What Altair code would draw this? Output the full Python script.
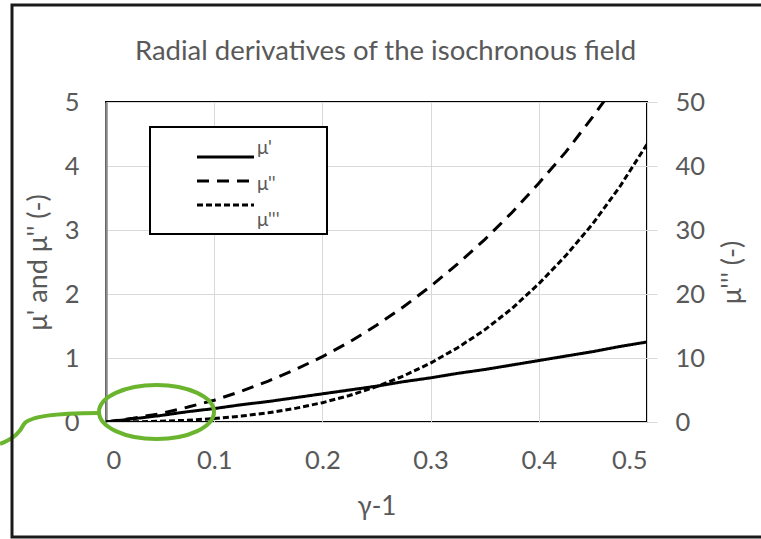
import altair as alt
import pandas as pd

# ---- data ----
gamma_minus_1 = [0, 0.025, 0.05, 0.075, 0.1, 0.125, 0.15, 0.175, 0.2, 0.225, 0.25,
                 0.275, 0.3, 0.325, 0.35, 0.375, 0.4, 0.425, 0.45, 0.475, 0.5]
mu1 = [0, 0.05, 0.10, 0.16, 0.21, 0.27, 0.32, 0.38, 0.44, 0.50, 0.56,
       0.63, 0.69, 0.76, 0.82, 0.89, 0.96, 1.03, 1.10, 1.18, 1.25]
mu2 = [0, 0.06, 0.13, 0.23, 0.34, 0.48, 0.64, 0.82, 1.02, 1.25, 1.51,
       1.80, 2.12, 2.47, 2.85, 3.27, 3.73, 4.22, 4.77, 5.36, 5.96]
mu3 = [0, 0.03, 0.11, 0.27, 0.54, 0.92, 1.44, 2.13, 3.02, 4.14, 5.52,
       7.20, 9.21, 11.6, 14.4, 17.7, 21.6, 26.0, 31.0, 36.8, 43.4]
series_names = ["μ'", "μ''", "μ'''"]
dash_styles = [[1, 0], [12, 8], [6, 3]]
x_ticks = [0, 0.1, 0.2, 0.3, 0.4, 0.5]
left_ticks = [0, 1, 2, 3, 4, 5]
right_ticks = [0, 10, 20, 30, 40, 50]
chart_title = ["Radial derivatives of the isochronous field"]

FONT = "Lato"
GRAY = "#595959"
GREEN = "#6ab42e"

n = len(gamma_minus_1)
left_df = pd.DataFrame({
    "x": gamma_minus_1 * 2,
    "value": mu1 + mu2,
    "series": [series_names[0]] * n + [series_names[1]] * n,
})
right_df = pd.DataFrame({"x": gamma_minus_1, "value": mu3, "series": [series_names[2]] * n})
legend_df = pd.DataFrame({"series": series_names})
title_df = pd.DataFrame({"t": chart_title})
dummy = pd.DataFrame({"a": [0]})

dash_scale = alt.Scale(domain=series_names, range=dash_styles)

x_enc = alt.X(
    "x:Q",
    scale=alt.Scale(domain=[0, 0.5], nice=False),
    axis=alt.Axis(values=x_ticks, format="~g", title="γ-1", grid=True, ticks=False,
                  domain=False, labelPadding=26, titleX=270.5, titleY=84, titleFontSize=26,
                  titleBaseline="middle", titleAlign="center"),
)

left = alt.Chart(left_df).mark_line(color="black", strokeWidth=3, clip=True).encode(
    x=x_enc,
    y=alt.Y("value:Q", scale=alt.Scale(domain=[0, 5], nice=False),
            axis=alt.Axis(values=left_ticks, title="μ' and μ'' (-)", grid=True, ticks=False,
                          domain=True, domainColor="#8a8a8a", domainWidth=2.5,
                          labelPadding=27, titleX=-68, titleY=160, titleAngle=-90,
                          titleFontSize=27, titleAlign="center", titleBaseline="middle")),
    strokeDash=alt.StrokeDash("series:N", scale=dash_scale, legend=None),
)

right = alt.Chart(right_df).mark_line(color="black", strokeWidth=3, clip=True).encode(
    x=x_enc,
    y=alt.Y("value:Q", scale=alt.Scale(domain=[0, 50], nice=False),
            axis=alt.Axis(orient="right", values=right_ticks, title="μ''' (-)", grid=False,
                          ticks=True, tickSize=10, tickColor="#d9d9d9", domain=False,
                          labelPadding=18, titleX=85, titleY=170, titleAngle=-90,
                          titleFontSize=27, titleAlign="center", titleBaseline="middle")),
    strokeDash=alt.StrokeDash("series:N", scale=dash_scale, legend=None),
)

legend_y = alt.Y("series:N", scale=alt.Scale(domain=series_names, range=[43, 115], padding=0),
                 axis=None)
legend_box = alt.Chart(dummy).mark_rect(fill="white", stroke="black", strokeWidth=2).encode(
    x=alt.value(44), x2=alt.value(221), y=alt.value(25), y2=alt.value(132))
legend_lines = alt.Chart(legend_df).mark_rule(color="black", strokeWidth=3).encode(
    x=alt.value(91), x2=alt.value(148), y=legend_y,
    strokeDash=alt.StrokeDash("series:N", scale=dash_scale, legend=None))
legend_text = alt.Chart(legend_df).mark_text(align="left", baseline="middle", fontSize=19,
                                             color=GRAY, font=FONT, dy=3).encode(
    x=alt.value(151), y=legend_y, text="series:N")

title_text = alt.Chart(title_df).mark_text(align="center", baseline="middle", fontSize=27.5,
                                           color=GRAY, font=FONT).encode(
    x=alt.value(279.5), y=alt.value(-50), text="t:N")

ellipse = alt.Chart(dummy).mark_point(
    shape="M -57.5 0 A 57.5 27 0 1 0 57.5 0 A 57.5 27 0 1 0 -57.5 0 Z",
    size=4, filled=False, stroke=GREEN, strokeWidth=4, opacity=1).encode(
    x=alt.value(50.5), y=alt.value(310))
curl = alt.Chart(dummy).mark_point(
    shape="M -8 311 C -46 311 -76 314 -82 322 C -86 330 -91 336 -106 342",
    size=4, filled=False, stroke=GREEN, strokeWidth=4, opacity=1).encode(
    x=alt.value(0), y=alt.value(0))

border = alt.Chart(dummy).mark_rect(fill="transparent", stroke="#1a1a1a", strokeWidth=3).encode(
    x=alt.value(-94), x2=alt.value(680), y=alt.value(-97), y2=alt.value(435))

chart = alt.layer(
    left, right, legend_box, legend_lines, legend_text, title_text, ellipse, curl, border
).resolve_scale(y="independent").properties(
    width=541, height=320,
    autosize=alt.AutoSizeParams(type="none"),
    padding={"left": 106, "top": 102, "right": 114, "bottom": 117},
    background="white",
).configure_axis(
    labelFont=FONT, titleFont=FONT, labelFontSize=25.5, titleFontSize=26,
    labelColor=GRAY, titleColor=GRAY, titleFontWeight="normal",
    gridColor="#d9d9d9", gridWidth=1,
).configure_view(stroke="black", strokeWidth=2)

chart.save("out.html", embed_options={"renderer": "svg", "actions": False})
